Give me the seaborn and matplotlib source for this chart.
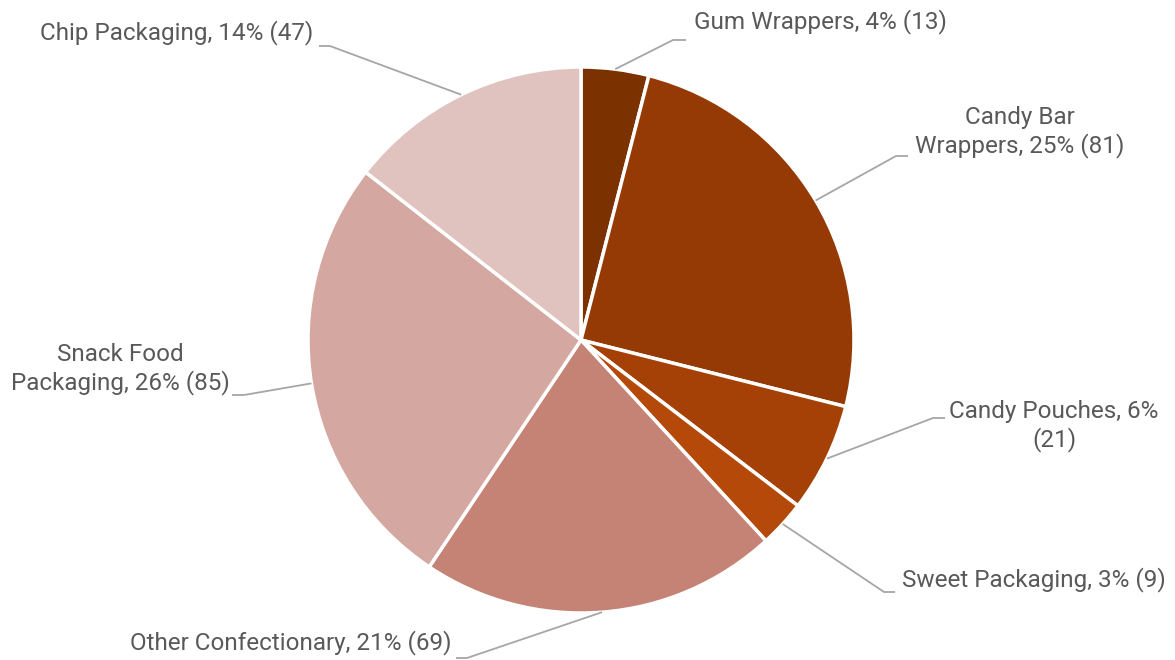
"""
plot.py - Confectionery packaging litter breakdown as a pie chart.
"""

import numpy as np
import seaborn as sns
import matplotlib.pyplot as plt

# data
categories = ["Gum Wrappers", "Candy Bar Wrappers", "Candy Pouches", "Sweet Packaging",
              "Other Confectionary", "Snack Food Packaging", "Chip Packaging"]
counts = [13, 81, 21, 9, 69, 85, 47]
label_texts = ["Gum Wrappers, 4% (13)", "Candy Bar\nWrappers, 25% (81)", "Candy Pouches, 6%\n(21)",
               "Sweet Packaging, 3% (9)", "Other Confectionary, 21% (69)",
               "Snack Food\nPackaging, 26% (85)", "Chip Packaging, 14% (47)"]
colors = ["#7B3100", "#963A05", "#A54106", "#B5490A", "#C48374", "#D4A7A0", "#E0C3BF"]

# layout: (elbow x, elbow y, end x, text x, text y, ha) in pixel coords, y measured from top
label_layout = [
    (673, 40, 686, 694, 22, "left"),
    (896, 156, 908, 1020, 132, "center"),
    (933, 418, 945, 1054, 426, "center"),
    (884, 592, 895, 902, 580, "left"),
    (467, 658, 456, 452, 643, "right"),
    (244, 395, 232, 120, 369, "center"),
    (330, 46, 319, 313, 33, "right"),
]

W, H = 1175, 660
CX, CY, R = 581, 340, 273

sns.set_theme(style="white")
plt.rcParams["font.family"] = ["Roboto", "DejaVu Sans"]

fig = plt.figure(figsize=(W / 100, H / 100), dpi=100)
ax = fig.add_axes([0, 0, 1, 1])

wedges, _ = ax.pie(counts, colors=colors, startangle=90, counterclock=False,
                   center=(CX, H - CY), radius=R,
                   wedgeprops=dict(edgecolor="white", linewidth=2.5))
ax.set_xlim(0, W)
ax.set_ylim(0, H)
ax.set_aspect("equal")
ax.axis("off")

for w, (ex, ey, endx, tx, ty, ha), txt in zip(wedges, label_layout, label_texts):
    mid = np.deg2rad((w.theta1 + w.theta2) / 2)
    px = CX + R * np.cos(mid)
    py = (H - CY) + R * np.sin(mid)
    ax.plot([px, ex, endx], [py, H - ey, H - ey], color="#A6A6A6", lw=1.3,
            solid_capstyle="butt")
    ax.text(tx, H - ty, txt, ha=ha, va="center", fontsize=17.5, color="#595959",
            linespacing=1.2)

fig.savefig("out.png", dpi=100)
